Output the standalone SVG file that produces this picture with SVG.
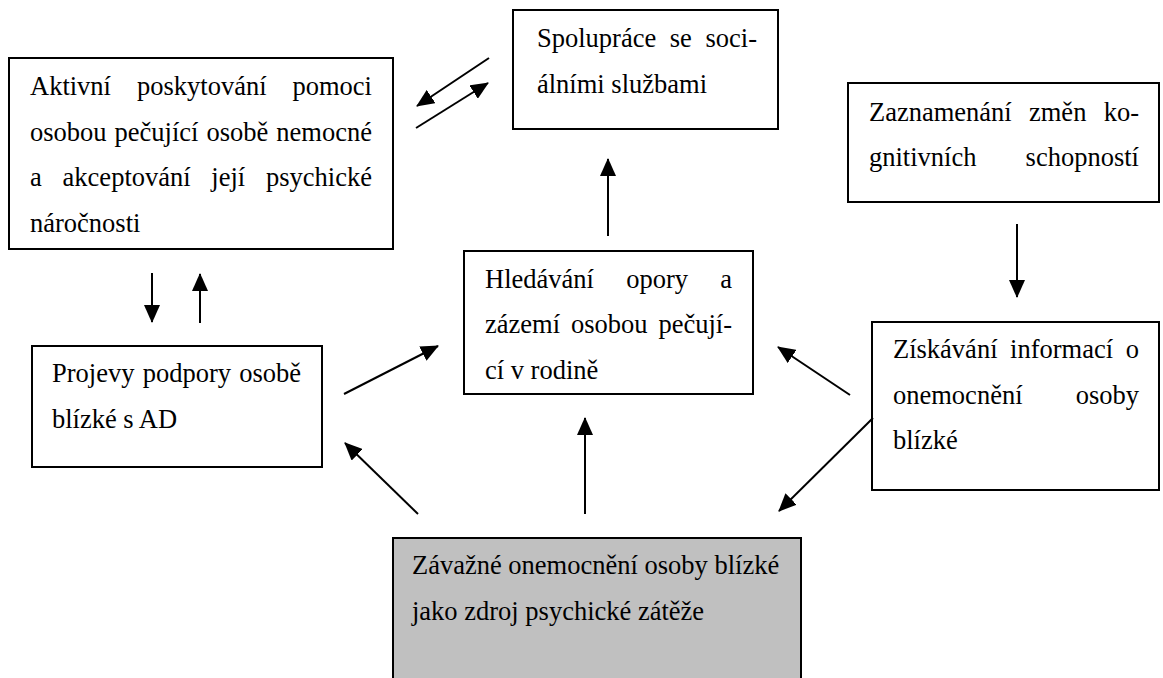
<svg xmlns="http://www.w3.org/2000/svg" width="1163" height="678" viewBox="0 0 1163 678">
<style>
.box{fill:#fff;stroke:#000;stroke-width:2}
.gray{fill:#c0c0c0;stroke:#000;stroke-width:2}
.t{font-family:'Liberation Serif','DejaVu Serif',serif;font-size:26.5px;fill:#000}
.c line{stroke:#000;stroke-width:2;marker-end:url(#ah)}
</style>
<defs>
<marker id="ah" markerUnits="userSpaceOnUse" markerWidth="18" markerHeight="16" viewBox="0 0 18 16" refX="17" refY="8" orient="auto">
<path d="M0,0 L18,8 L0,16 Z" fill="#000"/>
</marker>
</defs>
<rect width="1163" height="678" fill="#fff"/>
<g id="n1" class="t" font-family="Liberation Serif, serif">
<rect class="box" x="9" y="58" width="384" height="191"/>
<text y="95"><tspan x="30">Aktivní</tspan><tspan x="137">poskytování</tspan><tspan x="292.5">pomoci</tspan></text>
<text y="140.5"><tspan x="30">osobou</tspan><tspan x="114.6">pečující</tspan><tspan x="206.5">osobě</tspan><tspan x="276.3">nemocné</tspan></text>
<text y="186"><tspan x="30">a</tspan><tspan x="62.6">akceptování</tspan><tspan x="211.3">její</tspan><tspan x="266">psychické</tspan></text>
<text x="30" y="231.5">náročnosti</text>
</g>
<g id="n2" class="t" font-family="Liberation Serif, serif">
<rect class="box" x="513" y="10" width="265" height="119"/>
<text y="47"><tspan x="537">Spolupráce</tspan><tspan x="669.8">se</tspan><tspan x="705.5">soci-</tspan></text>
<text x="537" y="92.5">álními službami</text>
</g>
<g id="n3" class="t" font-family="Liberation Serif, serif">
<rect class="box" x="848" y="83" width="311" height="119"/>
<text y="120.5"><tspan x="869">Zaznamenání</tspan><tspan x="1029">změn</tspan><tspan x="1103.7">ko-</tspan></text>
<text y="166"><tspan x="869">gnitivních</tspan><tspan x="1025.6">schopností</tspan></text>
</g>
<g id="n4" class="t" font-family="Liberation Serif, serif">
<rect class="box" x="464" y="251" width="289" height="143"/>
<text y="287.5"><tspan x="485">Hledávání</tspan><tspan x="626.2">opory</tspan><tspan x="720.2">a</tspan></text>
<text y="333"><tspan x="485">zázemí</tspan><tspan x="570.9">osobou</tspan><tspan x="658.4">pečují-</tspan></text>
<text x="485" y="378.5">cí v rodině</text>
</g>
<g id="n5" class="t" font-family="Liberation Serif, serif">
<rect class="box" x="32" y="346" width="290" height="121"/>
<text y="382"><tspan x="52">Projevy</tspan><tspan x="142.7">podpory</tspan><tspan x="239.2">osobě</tspan></text>
<text x="52" y="427.5">blízké s AD</text>
</g>
<g id="n6" class="t" font-family="Liberation Serif, serif">
<rect class="box" x="872" y="322" width="287" height="168"/>
<text y="358"><tspan x="893">Získávání</tspan><tspan x="1010.1">informací</tspan><tspan x="1125.7">o</tspan></text>
<text y="403.5"><tspan x="893">onemocnění</tspan><tspan x="1075.7">osoby</tspan></text>
<text x="893" y="449">blízké</text>
</g>
<g id="n7" class="t" font-family="Liberation Serif, serif">
<rect class="gray" x="393" y="538" width="408" height="160"/>
<text x="412" y="574">Závažné onemocnění osoby blízké</text>
<text x="412" y="619.5">jako zdroj psychické zátěže</text>
</g>
<g id="connectors" class="c">
<line x1="489" y1="58" x2="417" y2="106"/>
<line x1="416" y1="128" x2="488" y2="83"/>
<line x1="152" y1="273" x2="152" y2="322"/>
<line x1="200" y1="323" x2="200" y2="274"/>
<line x1="344" y1="394" x2="438" y2="346"/>
<line x1="418" y1="514" x2="345" y2="443"/>
<line x1="585" y1="514" x2="585" y2="418"/>
<line x1="873" y1="418" x2="779" y2="511"/>
<line x1="850" y1="395" x2="778" y2="347"/>
<line x1="1017" y1="224" x2="1017" y2="297"/>
<line x1="608" y1="236" x2="608" y2="159"/>
</g>
</svg>
